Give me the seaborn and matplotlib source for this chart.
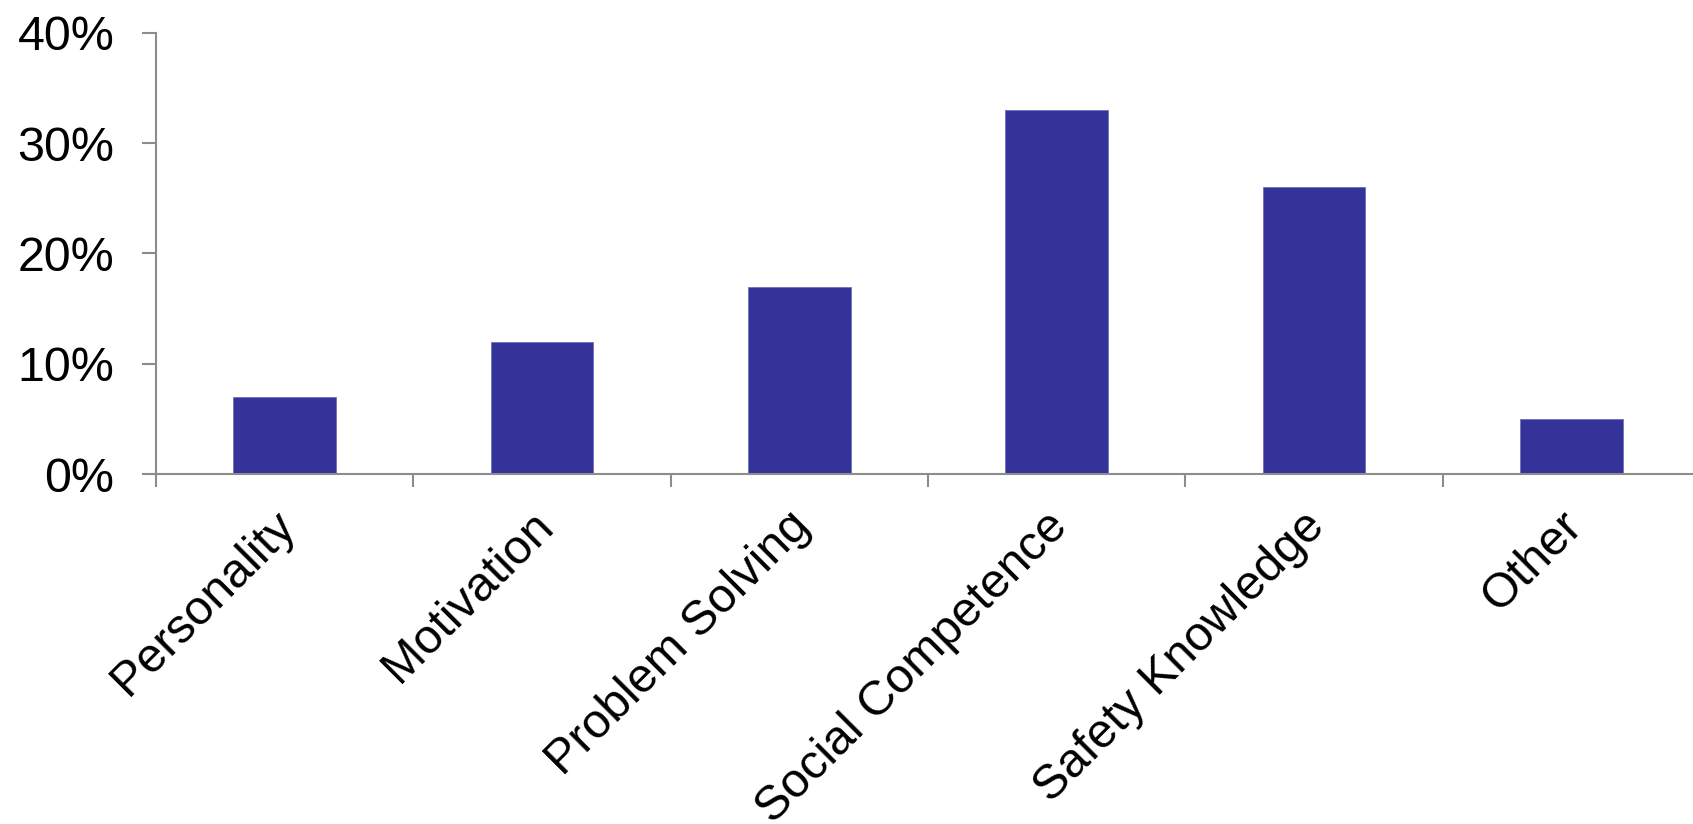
import matplotlib
matplotlib.use("Agg")
import matplotlib.pyplot as plt
import matplotlib.transforms as mtransforms
import seaborn as sns
import pandas as pd
from matplotlib.ticker import FixedLocator, FuncFormatter

categories = ["Personality", "Motivation", "Problem Solving",
              "Social Competence", "Safety Knowledge", "Other"]
values = [7, 12, 17, 33, 26, 5]
yticks = [0, 10, 20, 30, 40]

sns.set_style("white")
plt.rcParams["font.family"] = ["Liberation Sans", "DejaVu Sans"]

W, H = 1693, 824
fig = plt.figure(figsize=(W / 100, H / 100), dpi=100)
ax = fig.add_axes([156 / W, (H - 474) / H, 1544 / W, (474 - 33) / H])

df = pd.DataFrame({"category": categories, "value": values})
sns.barplot(data=df, x="category", y="value", color="#333399",
            saturation=1, width=0.4, ax=ax, edgecolor="#6f6fb8", linewidth=0.6)

gray = "#8c8c8c"
ax.set_xlim(-0.5, len(categories) - 0.5)
ax.set_ylim(0, 40)
ax.set_yticks(yticks)
ax.yaxis.set_major_formatter(FuncFormatter(lambda v, p: f"{v:.0f}%"))
ax.set_xlabel("")
ax.set_ylabel("")

for s in ["top", "right"]:
    ax.spines[s].set_visible(False)
for s in ["left", "bottom"]:
    ax.spines[s].set_color(gray)
    ax.spines[s].set_linewidth(1.5)

ax.tick_params(axis="y", which="major", direction="out", length=10, width=1.5,
               color=gray, pad=20, labelsize=34.8, labelcolor="black", left=True)
ax.tick_params(axis="x", which="major", length=0, pad=21, labelsize=34.8,
               labelcolor="black")
ax.xaxis.set_minor_locator(FixedLocator([i - 0.5 for i in range(len(categories) + 1)]))
ax.tick_params(axis="x", which="minor", direction="out", length=9.5, width=1.5,
               color=gray, bottom=True)
offset = mtransforms.ScaledTranslation(-12 / 100, 0, fig.dpi_scale_trans)
for lab in ax.get_xticklabels():
    lab.set_rotation(45)
    lab.set_ha("right")
    lab.set_va("top")
    lab.set_rotation_mode("anchor")
    lab.set_transform(lab.get_transform() + offset)

fig.savefig("out.png", dpi=100, facecolor="white")
